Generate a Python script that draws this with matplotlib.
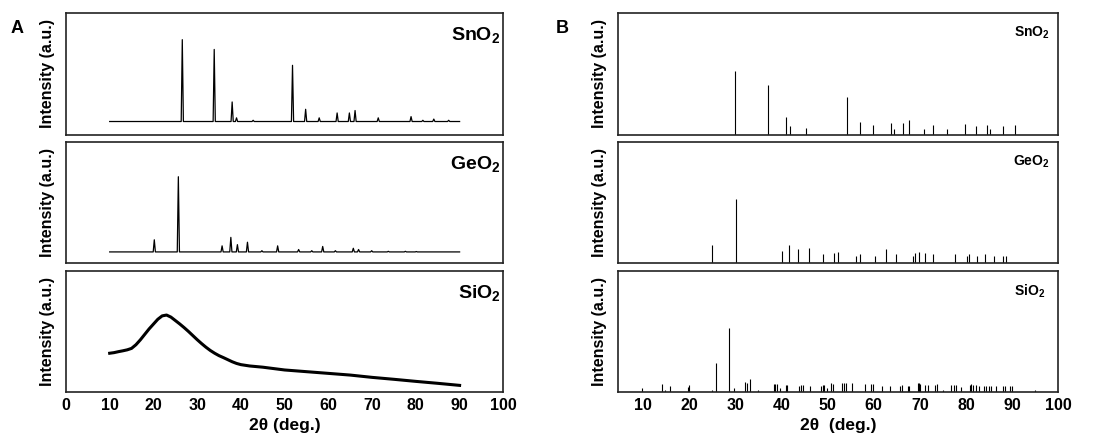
import numpy as np
import matplotlib
matplotlib.use('Agg')
import matplotlib.pyplot as plt

plt.rcParams['font.family'] = ['Liberation Sans', 'DejaVu Sans']
plt.rcParams['font.weight'] = 'bold'
plt.rcParams['mathtext.fontset'] = 'custom'
plt.rcParams['mathtext.rm'] = 'Liberation Sans:bold'
plt.rcParams['mathtext.bf'] = 'Liberation Sans:bold'

# ---- panel A : measured patterns (peak position, peak top, axis fraction) ----
sno2_base = 0.11
sno2_pos = [26.6, 33.9, 38.0, 39.0, 42.8, 51.8, 54.8, 57.9, 62.0, 64.8, 66.1, 71.4, 78.9, 81.6, 84.1, 87.5]
sno2_top = [0.78, 0.70, 0.27, 0.14, 0.12, 0.57, 0.21, 0.14, 0.18, 0.18, 0.20, 0.14, 0.15, 0.12, 0.13, 0.12]

geo2_base = 0.09
geo2_pos = [20.2, 25.7, 35.7, 37.7, 39.2, 41.5, 44.8, 48.4, 53.2, 56.2, 58.7, 61.6, 65.7, 66.9, 69.9, 73.7, 77.6, 80.1]
geo2_top = [0.19, 0.71, 0.14, 0.21, 0.15, 0.17, 0.10, 0.14, 0.11, 0.10, 0.135, 0.10, 0.12, 0.11, 0.10, 0.095, 0.095, 0.093]

sio2_x = [10, 11, 12, 13, 14, 15, 16, 17, 18, 19, 20, 21, 22, 23, 24, 25, 26, 27, 28, 29, 30, 31, 32, 33,
          34, 35, 36, 37, 38, 39, 40, 42, 45, 50, 55, 60, 65, 70, 75, 80, 85, 90]
sio2_y = [0.32, 0.325, 0.333, 0.34, 0.348, 0.36, 0.39, 0.43, 0.475, 0.52, 0.56, 0.60, 0.628, 0.635, 0.618,
          0.59, 0.562, 0.532, 0.50, 0.466, 0.432, 0.40, 0.37, 0.343, 0.32, 0.30, 0.284, 0.267, 0.25, 0.236,
          0.226, 0.215, 0.205, 0.182, 0.168, 0.154, 0.14, 0.121, 0.105, 0.088, 0.072, 0.055]

# ---- panel B : reference stick patterns ----
ref_sno2_pos = [30.0, 37.0, 40.9, 41.9, 45.4, 54.1, 57.0, 59.9, 63.7, 64.4, 66.4, 67.7, 70.8, 72.8, 75.9,
                79.8, 82.2, 84.6, 85.1, 88.0, 90.6]
ref_sno2_h = [0.52, 0.41, 0.15, 0.07, 0.06, 0.31, 0.11, 0.08, 0.10, 0.05, 0.10, 0.12, 0.05, 0.08, 0.05,
              0.09, 0.07, 0.08, 0.05, 0.07, 0.08]

ref_geo2_pos = [25.0, 30.1, 40.2, 41.7, 43.5, 45.9, 49.0, 51.4, 52.3, 56.2, 57.1, 60.3, 62.6, 64.9, 68.6,
                69.0, 69.7, 71.0, 72.8, 77.5, 80.2, 80.6, 82.4, 84.0, 86.1, 88.0, 88.7]
ref_geo2_h = [0.15, 0.525, 0.10, 0.15, 0.11, 0.12, 0.07, 0.08, 0.09, 0.06, 0.075, 0.06, 0.11, 0.07, 0.055,
              0.08, 0.09, 0.08, 0.075, 0.07, 0.06, 0.07, 0.06, 0.07, 0.06, 0.055, 0.06]

ref_sio2_pos = [9.8, 14.1, 14.8, 15.9, 19.8, 20.0, 24.9, 25.8, 28.7, 29.8, 32.1, 32.6, 33.1, 34.8, 38.3, 38.6,
                39.1, 39.7, 41.0, 41.2, 43.7, 44.2, 44.6, 46.2, 48.5, 49.0, 49.3, 49.8, 50.8, 51.1, 53.2, 53.6,
                53.9, 55.3, 58.2, 59.4, 59.8, 61.8, 63.6, 65.7, 66.2, 67.4, 67.7, 69.6, 69.9, 70.1, 71.2, 71.8,
                73.3, 73.7, 75.0, 76.8, 77.3, 77.9, 78.8, 80.8, 81.1, 81.6, 82.2, 82.7, 83.8, 84.4, 84.9, 85.5,
                86.4, 88.0, 88.5, 89.5, 90.0, 95.0]
ref_sio2_h = [0.03, 0.063, 0.015, 0.052, 0.044, 0.06, 0.015, 0.237, 0.527, 0.03, 0.08, 0.075, 0.107, 0.015,
              0.063, 0.063, 0.063, 0.03, 0.06, 0.06, 0.052, 0.06, 0.06, 0.047, 0.052, 0.057, 0.06, 0.03,
              0.072, 0.063, 0.072, 0.072, 0.072, 0.072, 0.063, 0.063, 0.063, 0.052, 0.047, 0.052, 0.057,
              0.052, 0.052, 0.072, 0.072, 0.063, 0.06, 0.06, 0.06, 0.063, 0.02, 0.057, 0.057, 0.057, 0.044,
              0.06, 0.063, 0.06, 0.057, 0.052, 0.052, 0.052, 0.052, 0.052, 0.052, 0.052, 0.052, 0.052,
              0.052, 0.02]


def profile(pos, top, base, hw=0.25):
    # baseline with narrow triangular peaks at the read positions
    xs, ys = [10], [base]
    for p, t in zip(pos, top):
        xs += [p - hw, p, p + hw]
        ys += [base, t, base]
    xs.append(90)
    ys.append(base)
    return xs, ys


def style(ax, xlim, name, fs, tx, show_x):
    ax.set_xlim(*xlim)
    ax.set_ylim(0, 1)
    ax.set_yticks([])
    ax.tick_params(axis='x', length=0, labelsize=11.5, pad=4)
    if not show_x:
        ax.set_xticklabels([])
    for s in ax.spines.values():
        s.set_linewidth(1.2)
        s.set_color('#222222')
    ax.set_ylabel('Intensity (a.u.)', fontsize=11.5, fontweight='bold', labelpad=8)
    ax.text(tx, 0.9, name, transform=ax.transAxes, ha='right', va='top', fontsize=fs)


fig = plt.figure(figsize=(10.99, 4.41), dpi=100)

rows = [(0.694, 0.277), (0.404, 0.275), (0.111, 0.275)]
names = [r'$\mathbf{SnO_2}$', r'$\mathbf{GeO_2}$', r'$\mathbf{SiO_2}$']

# panel A
axA = [fig.add_axes([0.060, b, 0.398, h]) for b, h in rows]
x, y = profile(sno2_pos, sno2_top, sno2_base)
axA[0].plot(x, y, color='k', lw=0.9)
x, y = profile(geo2_pos, geo2_top, geo2_base)
axA[1].plot(x, y, color='k', lw=0.9)
axA[2].plot(sio2_x, sio2_y, color='k', lw=2.2)
for i, ax in enumerate(axA):
    style(ax, (0, 100), names[i], 14, 0.993, i == 2)
    ax.set_xticks(range(0, 101, 10))
axA[2].set_xlabel('2θ (deg.)', fontsize=12.5, fontweight='bold', labelpad=4)

# panel B
axB = [fig.add_axes([0.5625, b, 0.4005, h]) for b, h in rows]
axB[0].vlines(ref_sno2_pos, 0, ref_sno2_h, color='k', lw=0.8)
axB[1].vlines(ref_geo2_pos, 0, ref_geo2_h, color='k', lw=0.8)
axB[2].vlines(ref_sio2_pos, 0, ref_sio2_h, color='k', lw=0.8)
for i, ax in enumerate(axB):
    style(ax, (4.6, 100), names[i], 10, 0.98 if i < 2 else 0.97, i == 2)
    ax.set_xticks(range(10, 101, 10))
axB[2].set_xlabel('2θ  (deg.)', fontsize=12.5, fontweight='bold', labelpad=4)

fig.text(0.0155, 0.935, 'A', fontsize=13, fontweight='bold', ha='center', va='center')
fig.text(0.5115, 0.935, 'B', fontsize=13, fontweight='bold', ha='center', va='center')

fig.savefig('out.png', dpi=100)
